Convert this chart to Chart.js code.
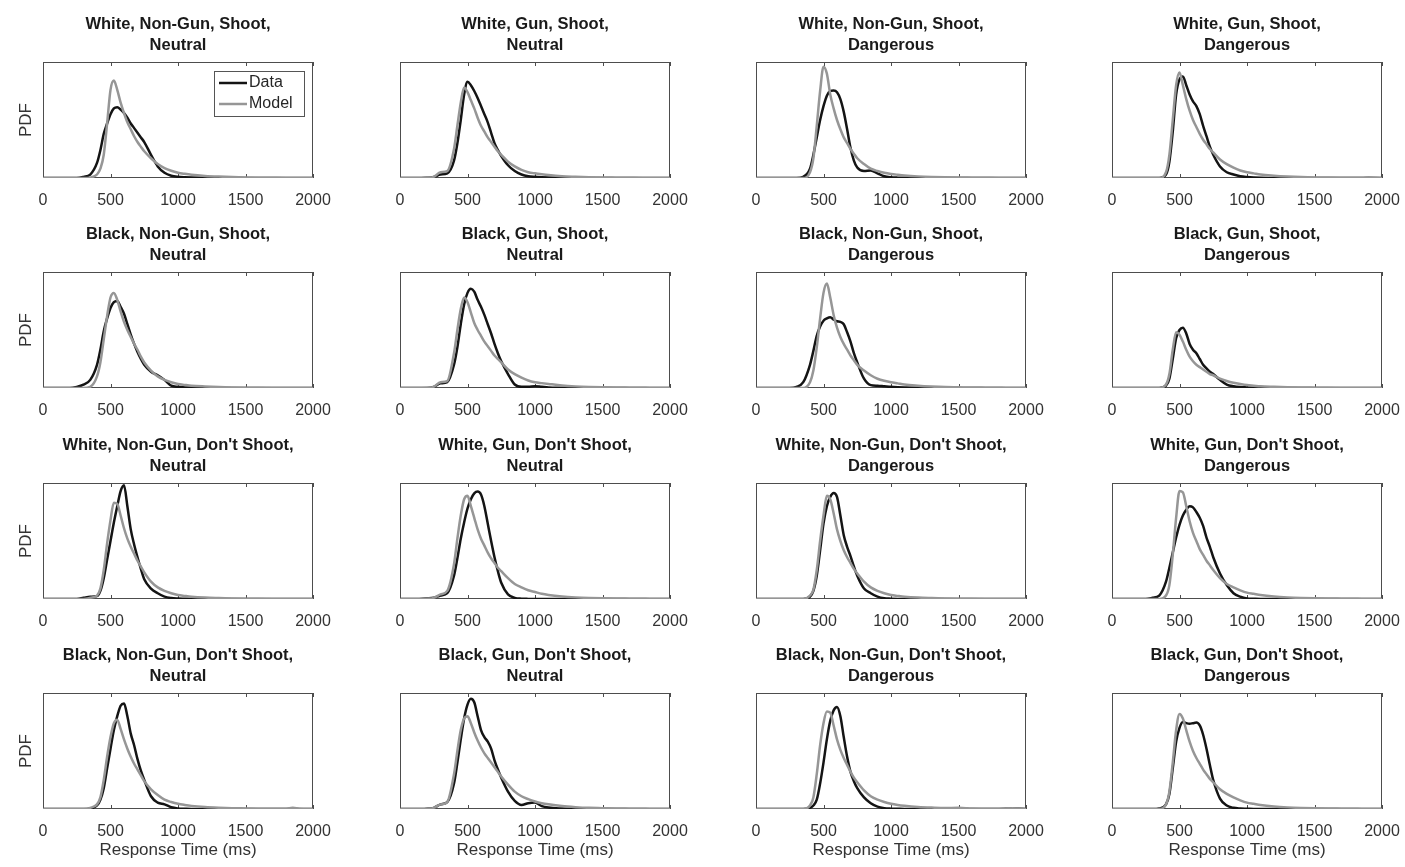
<!DOCTYPE html>
<html>
<head>
<meta charset="utf-8">
<script src="https://cdn.jsdelivr.net/npm/chart.js@4.4.1/dist/chart.umd.min.js"></script>
<style>
  body { margin: 0; background: #fff; width: 1405px; height: 867px; position: relative; overflow: hidden; }
  canvas.painel { position: absolute; }
</style>
</head>
<body>
<script>
// Eixo dos tempos de resposta (ms) usado por todas as curvas
const tempos = [0,100,200,250,300,350,400,425,450,475,500,525,550,575,600,625,650,675,700,725,750,800,850,900,950,1000,1050,1100,1200,1300,1400,1500,1600,1700,1800,1850,1900,2000];
const ticksX = [0, 500, 1000, 1500, 2000];
const yMax = 1;

const titulos = [
  ['White, Non-Gun, Shoot,', 'Neutral'], ['White, Gun, Shoot,', 'Neutral'],
  ['White, Non-Gun, Shoot,', 'Dangerous'], ['White, Gun, Shoot,', 'Dangerous'],
  ['Black, Non-Gun, Shoot,', 'Neutral'], ['Black, Gun, Shoot,', 'Neutral'],
  ['Black, Non-Gun, Shoot,', 'Dangerous'], ['Black, Gun, Shoot,', 'Dangerous'],
  ["White, Non-Gun, Don't Shoot,", 'Neutral'], ["White, Gun, Don't Shoot,", 'Neutral'],
  ["White, Non-Gun, Don't Shoot,", 'Dangerous'], ["White, Gun, Don't Shoot,", 'Dangerous'],
  ["Black, Non-Gun, Don't Shoot,", 'Neutral'], ["Black, Gun, Don't Shoot,", 'Neutral'],
  ["Black, Non-Gun, Don't Shoot,", 'Dangerous'], ["Black, Gun, Don't Shoot,", 'Dangerous']
];

// PDF observada (Data) e PDF do modelo (Model), em fracao do eixo y
const data1 = [0,0,0,0,0.01,0.03,0.13,0.24,0.38,0.47,0.55,0.60,0.61,0.59,0.56,0.52,0.47,0.43,0.39,0.35,0.31,0.20,0.10,0.045,0.02,0.01,0.006,0.004,0.002,0.001,0,0,0,0,0,0,0,0];
const model1 = [0,0,0,0,0,0.005,0.03,0.08,0.20,0.47,0.76,0.84,0.76,0.65,0.56,0.48,0.42,0.36,0.31,0.27,0.23,0.17,0.12,0.085,0.062,0.046,0.036,0.028,0.018,0.012,0.008,0.005,0.003,0.002,0.001,0.001,0.001,0];
const data2 = [0,0,0.002,0.008,0.03,0.04,0.15,0.30,0.50,0.72,0.83,0.80,0.75,0.69,0.62,0.55,0.48,0.39,0.30,0.24,0.19,0.11,0.06,0.03,0.015,0.01,0.007,0.005,0.002,0.001,0,0,0,0,0,0,0,0];
const model2 = [0,0,0.003,0.01,0.05,0.06,0.25,0.45,0.65,0.78,0.74,0.67,0.60,0.52,0.45,0.40,0.35,0.31,0.27,0.23,0.20,0.14,0.10,0.07,0.05,0.04,0.032,0.025,0.015,0.01,0.006,0.004,0.003,0.002,0.001,0.001,0.001,0];
const data3 = [0,0,0,0,0,0.01,0.08,0.20,0.35,0.50,0.62,0.71,0.75,0.755,0.74,0.68,0.57,0.42,0.26,0.15,0.09,0.06,0.065,0.04,0.015,0.006,0.003,0.002,0,0,0,0,0,0,0,0,0,0];
const model3 = [0,0,0,0,0,0,0.05,0.17,0.45,0.75,0.96,0.90,0.72,0.60,0.50,0.42,0.35,0.30,0.25,0.21,0.17,0.12,0.08,0.06,0.045,0.035,0.028,0.022,0.014,0.009,0.006,0.004,0.003,0.002,0.001,0.001,0.001,0];
const data4 = [0,0,0,0,0,0,0.03,0.14,0.40,0.72,0.85,0.876,0.80,0.72,0.66,0.62,0.55,0.45,0.36,0.27,0.20,0.10,0.05,0.03,0.015,0.008,0.004,0.002,0,0,0,0,0,0,0,0,0,0];
const model4 = [0,0,0,0,0,0,0.05,0.20,0.50,0.80,0.91,0.80,0.68,0.58,0.50,0.44,0.38,0.33,0.29,0.25,0.22,0.16,0.12,0.09,0.065,0.05,0.04,0.03,0.02,0.013,0.008,0.005,0.004,0.003,0.002,0.002,0.006,0];
const data5 = [0,0,0,0.01,0.03,0.07,0.20,0.33,0.49,0.60,0.69,0.74,0.75,0.70,0.64,0.55,0.46,0.38,0.31,0.25,0.20,0.14,0.11,0.07,0.02,0.01,0.005,0.003,0,0,0,0,0,0,0,0,0,0];
const model5 = [0,0,0,0,0,0.01,0.10,0.22,0.42,0.62,0.78,0.82,0.76,0.66,0.57,0.50,0.44,0.38,0.33,0.27,0.22,0.15,0.10,0.07,0.05,0.035,0.027,0.02,0.013,0.008,0.005,0.003,0.002,0.001,0,0,0,0];
const data6 = [0,0,0,0.01,0.04,0.05,0.20,0.35,0.55,0.72,0.82,0.855,0.83,0.76,0.70,0.63,0.55,0.47,0.38,0.30,0.23,0.12,0.03,0.01,0.01,0.015,0.01,0.005,0.002,0,0,0,0,0,0,0,0,0];
const model6 = [0,0,0.002,0.01,0.05,0.06,0.30,0.50,0.68,0.78,0.74,0.65,0.56,0.50,0.45,0.40,0.36,0.32,0.28,0.25,0.22,0.16,0.12,0.09,0.065,0.05,0.042,0.035,0.022,0.014,0.009,0.006,0.004,0.003,0.002,0.001,0.001,0];
const data7 = [0,0,0,0,0.01,0.05,0.20,0.32,0.45,0.53,0.58,0.60,0.61,0.59,0.575,0.57,0.55,0.48,0.40,0.30,0.22,0.08,0.025,0.02,0.015,0.01,0.007,0.005,0.002,0,0,0,0,0,0,0,0,0];
const model7 = [0,0,0,0,0,0,0.05,0.15,0.35,0.60,0.82,0.90,0.78,0.63,0.52,0.44,0.38,0.33,0.28,0.24,0.20,0.15,0.11,0.08,0.062,0.05,0.04,0.03,0.02,0.013,0.008,0.006,0.004,0.003,0.002,0.001,0.001,0];
const data8 = [0,0,0,0,0,0,0.02,0.08,0.25,0.43,0.50,0.52,0.47,0.38,0.33,0.30,0.25,0.20,0.17,0.14,0.12,0.07,0.03,0.015,0.008,0.005,0.003,0.002,0,0,0,0,0,0,0,0,0,0];
const model8 = [0,0,0,0,0,0,0.03,0.12,0.33,0.48,0.46,0.40,0.33,0.27,0.23,0.20,0.18,0.16,0.14,0.12,0.11,0.08,0.06,0.045,0.034,0.025,0.02,0.015,0.01,0.006,0.004,0.003,0.002,0.001,0,0,0,0];
const data9 = [0,0,0,0,0.01,0.02,0.025,0.07,0.18,0.34,0.50,0.66,0.80,0.93,0.98,0.80,0.60,0.47,0.36,0.26,0.17,0.09,0.05,0.02,0.008,0.004,0.002,0,0,0,0,0,0,0,0,0,0,0];
const model9 = [0,0,0,0,0,0.01,0.03,0.09,0.25,0.48,0.68,0.83,0.82,0.72,0.61,0.52,0.45,0.39,0.33,0.28,0.23,0.15,0.10,0.07,0.05,0.035,0.027,0.02,0.012,0.008,0.005,0.003,0.002,0.001,0,0,0,0];
const data10 = [0,0,0.005,0.01,0.03,0.05,0.20,0.35,0.52,0.66,0.78,0.86,0.91,0.926,0.90,0.80,0.65,0.50,0.36,0.24,0.14,0.04,0.01,0.003,0.001,0,0,0,0,0,0,0,0,0,0,0,0,0];
const model10 = [0,0,0.003,0.01,0.04,0.07,0.30,0.52,0.72,0.86,0.89,0.80,0.70,0.60,0.52,0.46,0.40,0.35,0.31,0.27,0.24,0.18,0.13,0.10,0.075,0.06,0.045,0.035,0.022,0.014,0.009,0.006,0.004,0.003,0.002,0.001,0.001,0];
const data11 = [0,0,0,0,0,0,0.02,0.07,0.20,0.42,0.65,0.80,0.88,0.913,0.88,0.72,0.55,0.45,0.37,0.28,0.20,0.09,0.05,0.02,0.006,0.003,0.001,0,0,0,0,0,0,0,0,0,0,0];
const model11 = [0,0,0,0,0,0,0.03,0.08,0.25,0.50,0.72,0.89,0.86,0.74,0.60,0.50,0.42,0.36,0.31,0.26,0.22,0.15,0.10,0.07,0.05,0.035,0.027,0.02,0.012,0.008,0.005,0.003,0.002,0.001,0,0,0,0];
const data12 = [0,0,0,0,0.01,0.03,0.15,0.27,0.40,0.53,0.64,0.72,0.77,0.80,0.79,0.75,0.70,0.63,0.53,0.45,0.36,0.22,0.12,0.05,0.02,0.005,0.002,0,0,0,0,0,0,0,0,0,0,0];
const model12 = [0,0,0,0,0,0,0.03,0.12,0.38,0.70,0.93,0.92,0.80,0.67,0.57,0.50,0.43,0.38,0.33,0.29,0.25,0.18,0.13,0.10,0.075,0.055,0.045,0.035,0.022,0.014,0.009,0.006,0.004,0.003,0.002,0.001,0.001,0];
const data13 = [0,0,0,0,0,0.005,0.03,0.08,0.18,0.35,0.52,0.68,0.80,0.89,0.91,0.80,0.65,0.55,0.43,0.33,0.25,0.11,0.055,0.04,0.015,0.005,0.002,0,0,0,0,0,0,0,0,0,0,0];
const model13 = [0,0,0,0,0,0.01,0.04,0.10,0.25,0.45,0.62,0.74,0.77,0.69,0.60,0.52,0.45,0.39,0.34,0.29,0.24,0.17,0.12,0.08,0.06,0.045,0.035,0.027,0.017,0.011,0.007,0.005,0.003,0.003,0.003,0.01,0.002,0];
const data14 = [0,0,0.003,0.01,0.04,0.06,0.22,0.40,0.60,0.78,0.90,0.95,0.92,0.80,0.68,0.62,0.58,0.52,0.42,0.34,0.27,0.15,0.07,0.035,0.05,0.055,0.025,0.012,0.004,0.001,0,0,0,0,0,0,0,0];
const model14 = [0,0,0.003,0.01,0.04,0.06,0.30,0.50,0.68,0.78,0.80,0.74,0.66,0.59,0.53,0.48,0.44,0.40,0.36,0.32,0.28,0.21,0.15,0.11,0.085,0.065,0.05,0.04,0.025,0.016,0.01,0.007,0.004,0.003,0.002,0.001,0.001,0];
const data15 = [0,0,0,0,0,0,0.01,0.03,0.08,0.22,0.40,0.60,0.76,0.85,0.88,0.80,0.62,0.45,0.32,0.24,0.18,0.10,0.05,0.02,0.007,0.003,0.002,0.001,0.001,0.001,0.002,0.005,0.001,0,0.001,0.002,0.004,0];
const model15 = [0,0,0,0,0,0,0.03,0.10,0.30,0.55,0.74,0.84,0.83,0.72,0.60,0.51,0.44,0.38,0.32,0.27,0.23,0.16,0.11,0.08,0.06,0.045,0.035,0.028,0.018,0.012,0.008,0.01,0.004,0.003,0.002,0.003,0.006,0];
const data16 = [0,0,0,0,0,0.005,0.04,0.13,0.35,0.58,0.70,0.75,0.74,0.735,0.74,0.745,0.72,0.64,0.52,0.38,0.25,0.09,0.03,0.01,0.004,0.002,0,0,0,0,0,0,0,0,0,0,0,0];
const model16 = [0,0,0,0,0,0,0.04,0.15,0.40,0.68,0.82,0.78,0.68,0.58,0.50,0.44,0.39,0.34,0.30,0.26,0.23,0.17,0.13,0.10,0.075,0.055,0.045,0.035,0.022,0.014,0.009,0.006,0.004,0.003,0.002,0.001,0.001,0];

const seriesData = [data1, data2, data3, data4, data5, data6, data7, data8, data9, data10, data11, data12, data13, data14, data15, data16];
const seriesModel = [model1, model2, model3, model4, model5, model6, model7, model8, model9, model10, model11, model12, model13, model14, model15, model16];

// Geometria da grade de paineis (area de plotagem)
const colLeft = [43, 400, 756, 1112];
const rowTop = [62, 272, 483, 693];
const plotW = 270, plotH = 116;
const eixoYW = 43, tituloH = 48;

Chart.defaults.font.family = "'Liberation Sans', Arial, Helvetica, sans-serif";
Chart.defaults.color = '#333';

// Desenha a moldura do eixo e os ticks para dentro, estilo MATLAB
const molduraPlugin = {
  id: 'moldura',
  beforeDatasetsDraw(chart) {
    const { ctx, chartArea: { left, top, right, bottom }, scales: { x } } = chart;
    ctx.save();
    ctx.strokeStyle = '#4d4d4d';
    ctx.lineWidth = 1;
    ctx.strokeRect(left + 0.5, top + 0.5, right - left - 1, bottom - top - 1);
    ctx.beginPath();
    ticksX.forEach((v) => {
      const px = Math.round(x.getPixelForValue(v)) + 0.5;
      ctx.moveTo(px, bottom);
      ctx.lineTo(px, bottom - 4);
      ctx.moveTo(px, top);
      ctx.lineTo(px, top + 4);
    });
    ctx.stroke();
    ctx.restore();
  }
};

// Legenda dentro do primeiro painel
const legendaPlugin = {
  id: 'legendaInterna',
  afterDraw(chart) {
    const { ctx, chartArea: { top, right } } = chart;
    const w = 90, h = 45;
    const x0 = right - 9 - w, y0 = top + 9;
    ctx.save();
    ctx.fillStyle = '#fff';
    ctx.fillRect(x0, y0, w, h);
    ctx.strokeStyle = '#555';
    ctx.lineWidth = 1;
    ctx.strokeRect(x0 + 0.5, y0 + 0.5, w, h);
    const itens = [['Data', '#141414'], ['Model', '#969696']];
    itens.forEach(([nome, cor], i) => {
      const yc = y0 + 12 + i * 21;
      ctx.strokeStyle = cor;
      ctx.lineWidth = 2.5;
      ctx.beginPath();
      ctx.moveTo(x0 + 5, yc);
      ctx.lineTo(x0 + 33, yc);
      ctx.stroke();
      ctx.fillStyle = '#262626';
      ctx.font = "16px 'Liberation Sans', Arial, sans-serif";
      ctx.textBaseline = 'middle';
      ctx.fillText(nome, x0 + 35, yc);
    });
    ctx.restore();
  }
};

function criarPainel(i) {
  const lin = Math.floor(i / 4), col = i % 4;
  const ultimaLinha = lin === 3;
  const eixoXH = ultimaLinha ? 58 : 30;

  const canvas = document.createElement('canvas');
  canvas.className = 'painel';
  canvas.width = eixoYW + plotW + eixoYW;
  canvas.height = tituloH + plotH + eixoXH;
  canvas.style.left = (colLeft[col] - eixoYW) + 'px';
  canvas.style.top = (rowTop[lin] - tituloH) + 'px';
  document.body.appendChild(canvas);

  const pontos = (serie) => tempos.map((t, k) => ({ x: t, y: serie[k] }));

  new Chart(canvas.getContext('2d'), {
    type: 'line',
    data: {
      datasets: [
        { label: 'Data', data: pontos(seriesData[i]), borderColor: '#141414', borderWidth: 2.5,
          pointRadius: 0, cubicInterpolationMode: 'monotone', order: 2 },
        { label: 'Model', data: pontos(seriesModel[i]), borderColor: '#969696', borderWidth: 2.5,
          pointRadius: 0, cubicInterpolationMode: 'monotone', order: 1 }
      ]
    },
    options: {
      responsive: false,
      animation: false,
      layout: { padding: 0 },
      plugins: {
        legend: { display: false },
        tooltip: { enabled: false },
        title: {
          display: true,
          text: titulos[i],
          color: '#1a1a1a',
          font: { size: 16.5, weight: 'bold', lineHeight: '21px' },
          padding: { top: 0, bottom: 6 }
        }
      },
      scales: {
        x: {
          type: 'linear', min: 0, max: 2000,
          grid: { display: false }, border: { display: false },
          afterBuildTicks: (s) => { s.ticks = ticksX.map((v) => ({ value: v })); },
          ticks: { font: { size: 16 }, color: '#333', padding: 5, maxRotation: 0,
                   callback: (v) => String(v) },
          title: { display: ultimaLinha, text: 'Response Time (ms)', color: '#333',
                   font: { size: 17, lineHeight: '20px' }, padding: { top: 0, bottom: 7 } },
          afterFit: (s) => { s.height = eixoXH; }
        },
        y: {
          min: 0, max: yMax,
          grid: { display: false }, border: { display: false },
          ticks: { display: false },
          title: { display: col === 0, text: 'PDF', color: '#333',
                   font: { size: 17, lineHeight: '20px' }, padding: { top: 16, bottom: 0 } },
          afterFit: (s) => { s.width = eixoYW; }
        },
        // eixo vazio a direita so para centralizar o titulo sobre o grafico
        yDir: {
          position: 'right', min: 0, max: yMax,
          grid: { display: false }, border: { display: false },
          ticks: { display: false },
          afterFit: (s) => { s.width = eixoYW; }
        }
      }
    },
    plugins: i === 0 ? [molduraPlugin, legendaPlugin] : [molduraPlugin]
  });
}

// Monta os 16 paineis
for (let i = 0; i < 16; i++) criarPainel(i);
</script>
</body>
</html>
